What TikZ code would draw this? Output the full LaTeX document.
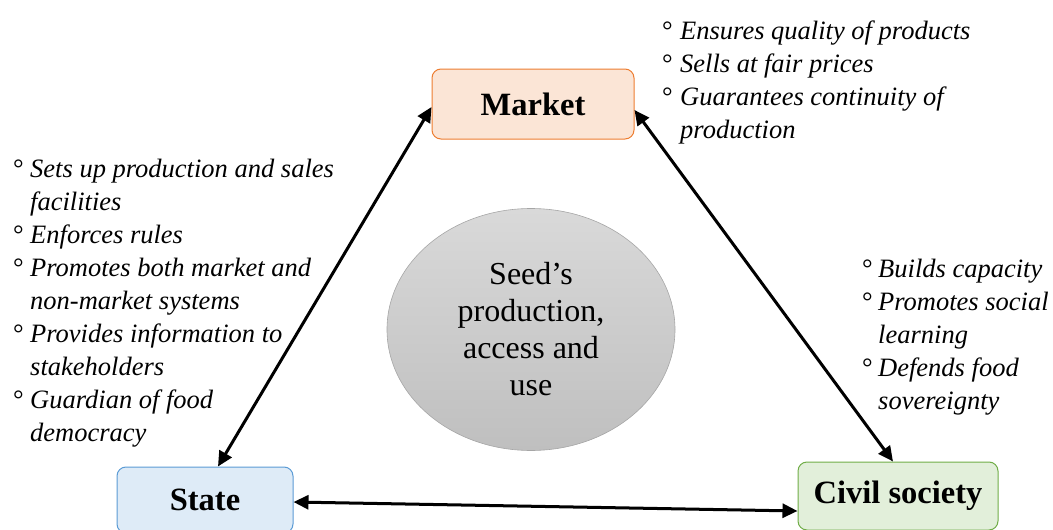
\documentclass[tikz,border=0pt]{standalone}
\usepackage{fontspec}
\setmainfont{Liberation Serif}
\usetikzlibrary{arrows.meta,shapes.geometric}
\definecolor{mktfill}{HTML}{FBE5D6}\definecolor{mktdraw}{HTML}{ED7D31}
\definecolor{stfill}{HTML}{DEEBF7}\definecolor{stdraw}{HTML}{5B9BD5}
\definecolor{cvfill}{HTML}{E2EFDA}\definecolor{cvdraw}{HTML}{70AD47}
\definecolor{hubtop}{HTML}{D9D9D9}\definecolor{hubbot}{HTML}{BFBFBF}\definecolor{hubdraw}{HTML}{A6A6A6}
\newcommand{\bul}[1]{\makebox[#1][l]{\upshape°}}
\newcommand{\cont}[1]{\hspace*{#1}}
\begin{document}
\begin{tikzpicture}[x=1pt,y=-1pt,
  actor/.style={rectangle, rounded corners=9pt, line width=1pt, inner sep=0pt,
    font=\fontsize{32.5}{38}\selectfont\bfseries},
  bullets/.style={anchor=north west, inner sep=0pt, align=left,
    font=\fontsize{26.5}{33}\selectfont\itshape},
  link/.style={line width=3pt, {Triangle[length=15pt,width=14pt]}-{Triangle[length=15pt,width=14pt]}}]
\useasboundingbox (0,0) rectangle (1053,530);
\clip (0,0) rectangle (1053,530);

\node[actor, fill=mktfill, draw=mktdraw, minimum width=202pt, minimum height=70pt] (market) at (533,104) {Market};
\node[actor, fill=stfill, draw=stdraw, minimum width=176pt, minimum height=66pt] (state) at (205,500) {State};
\node[actor, fill=cvfill, draw=cvdraw, minimum width=200pt, minimum height=68pt] (civil) at (898,496) {Civil society};

\node[ellipse, top color=hubtop, bottom color=hubbot, draw=hubdraw, line width=0.6pt,
      minimum width=288pt, minimum height=242pt] (hub) at (531,329.5) {};
\node[align=center, inner sep=0pt, font=\fontsize{32}{37}\selectfont] (hubtext)
      at (hub.center) {Seed’s\\production,\\access and\\use};

\node[bullets] (mktlist) at (662,16) {%
\bul{18pt}\strut Ensures quality of products\\
\bul{18pt}\strut Sells at fair prices\\
\bul{18pt}\strut Guarantees continuity of\\
\cont{18pt}\strut production};

\node[bullets] (statelist) at (13,154.5) {%
\bul{17pt}\strut Sets up production and sales\\
\cont{17pt}\strut facilities\\
\bul{17pt}\strut Enforces rules\\
\bul{17pt}\strut Promotes both market and\\
\cont{17pt}\strut non-market systems\\
\bul{17pt}\strut Provides information to\\
\cont{17pt}\strut stakeholders\\
\bul{17pt}\strut Guardian of food\\
\cont{17pt}\strut democracy};

\node[bullets] (civillist) at (862,254) {%
\bul{16pt}\strut Builds capacity\\
\bul{16pt}\strut Promotes social\\
\cont{16pt}\strut learning\\
\bul{16pt}\strut Defends food\\
\cont{16pt}\strut sovereignty};

\draw[link] ([yshift=-3pt]market.west) -- ([xshift=13pt]state.north);
\draw[link] ([yshift=-6pt]market.east) -- ([xshift=-5pt]civil.north);
\draw[link] ([yshift=-2pt]state.east) -- ([yshift=-15pt]civil.west);
\end{tikzpicture}
\end{document}
